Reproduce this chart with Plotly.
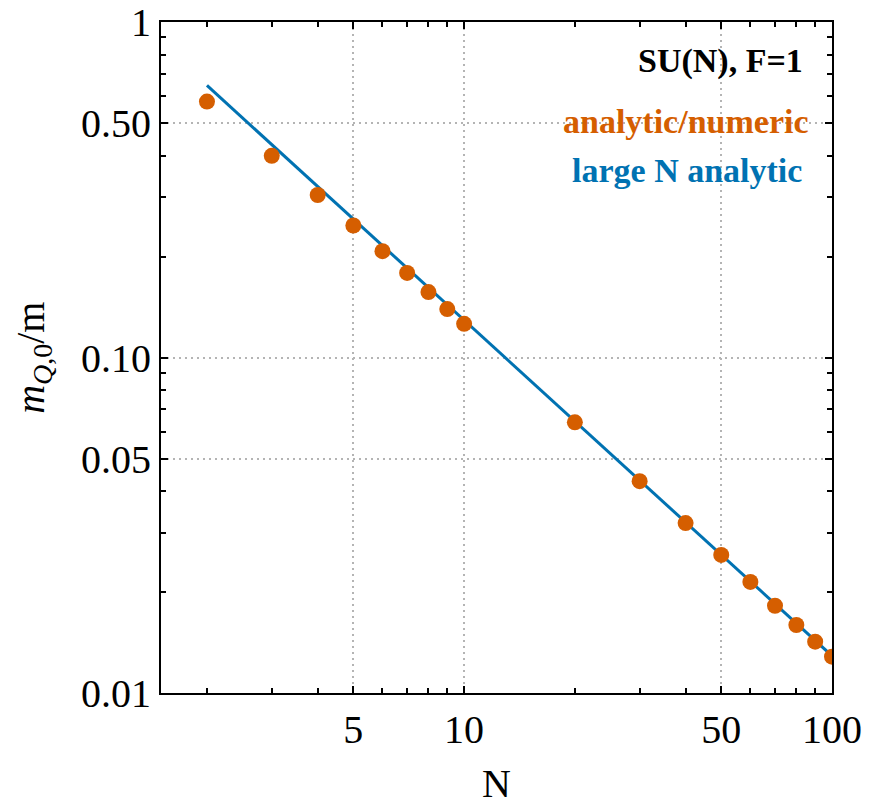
import plotly.graph_objects as go

# data
N_vals = [2, 3, 4, 5, 6, 7, 8, 9, 10, 20, 30, 40, 50, 60, 70, 80, 90, 100]
m_vals = [0.579, 0.399, 0.305, 0.2474, 0.2075, 0.1787, 0.1567, 0.1394, 0.126,
          0.0641, 0.0428, 0.0321, 0.0258, 0.02143, 0.0182, 0.01595, 0.01422, 0.01283]
line_N = [2, 100]
line_m = [0.647, 0.0129]

x_tickvals = [5, 10, 50, 100]
x_ticktext = ["5", "10", "50", "100"]
x_minor = [2, 3, 4, 6, 7, 8, 9, 20, 30, 40, 60, 70, 80, 90]
y_tickvals = [0.01, 0.05, 0.1, 0.5, 1]
y_ticktext = ["0.01", "0.05", "0.10", "0.50", "1"]
y_minor = [0.02, 0.03, 0.04, 0.06, 0.07, 0.08, 0.09, 0.2, 0.3, 0.4, 0.6, 0.7, 0.8, 0.9]

ORANGE = "#D55E00"
BLUE = "#0072B2"
FONT = "Liberation Serif"

fig = go.Figure()
fig.add_trace(go.Scatter(x=line_N, y=line_m, mode="lines",
                         line=dict(color=BLUE, width=3), showlegend=False))
fig.add_trace(go.Scatter(x=N_vals, y=m_vals, mode="markers",
                         marker=dict(color=ORANGE, size=16, line=dict(width=0)),
                         cliponaxis=True, showlegend=False))

axis_common = dict(
    type="log", showline=True, linecolor="black", linewidth=2, mirror="allticks",
    ticks="inside", ticklen=7, tickwidth=1.5, tickcolor="black",
    showgrid=True, gridcolor="#b4b4b4", gridwidth=2, griddash="2px,4px",
    zeroline=False, automargin=False,
    tickfont=dict(family=FONT, size=40, color="black"),
)

fig.update_xaxes(**axis_common, range=[0.17609, 2.0], tickmode="array",
                 tickvals=x_tickvals, ticktext=x_ticktext,
                 minor=dict(tickmode="array", tickvals=x_minor, ticks="inside",
                            ticklen=5, tickwidth=1.5, tickcolor="black", showgrid=False))
fig.update_yaxes(**axis_common, range=[-2.0, 0.0], tickmode="array",
                 tickvals=y_tickvals, ticktext=y_ticktext,
                 minor=dict(tickmode="array", tickvals=y_minor, ticks="inside",
                            ticklen=5, tickwidth=1.5, tickcolor="black", showgrid=False))

annotations = [
    dict(text="N", x=0.5, y=-0.135, xref="paper", yref="paper",
         xanchor="center", yanchor="middle", showarrow=False,
         font=dict(family=FONT, size=40, color="black")),
    dict(text="<i>m</i><sub><i>Q</i>,0</sub>/m", x=-0.1917, y=0.5, xref="paper", yref="paper",
         xanchor="center", yanchor="middle", textangle=-90, showarrow=False,
         font=dict(family=FONT, size=40, color="black")),
    dict(text="<b>SU(N), F=1</b>", x=0.9598, y=0.9423, xref="paper", yref="paper",
         xanchor="right", yanchor="middle", showarrow=False,
         font=dict(family=FONT, size=34, color="black")),
    dict(text="<b>analytic/numeric</b>", x=0.7825, y=0.8513, xref="paper", yref="paper",
         xanchor="center", yanchor="middle", showarrow=False,
         font=dict(family=FONT, size=34, color=ORANGE)),
    dict(text="<b>large N analytic</b>", x=0.784, y=0.7783, xref="paper", yref="paper",
         xanchor="center", yanchor="middle", showarrow=False,
         font=dict(family=FONT, size=34, color=BLUE)),
]

fig.update_layout(
    width=882, height=805,
    margin=dict(l=161, r=50, t=22, b=112),
    plot_bgcolor="white", paper_bgcolor="white",
    annotations=annotations,
    font=dict(family=FONT),
)

fig.write_html("out.html")
